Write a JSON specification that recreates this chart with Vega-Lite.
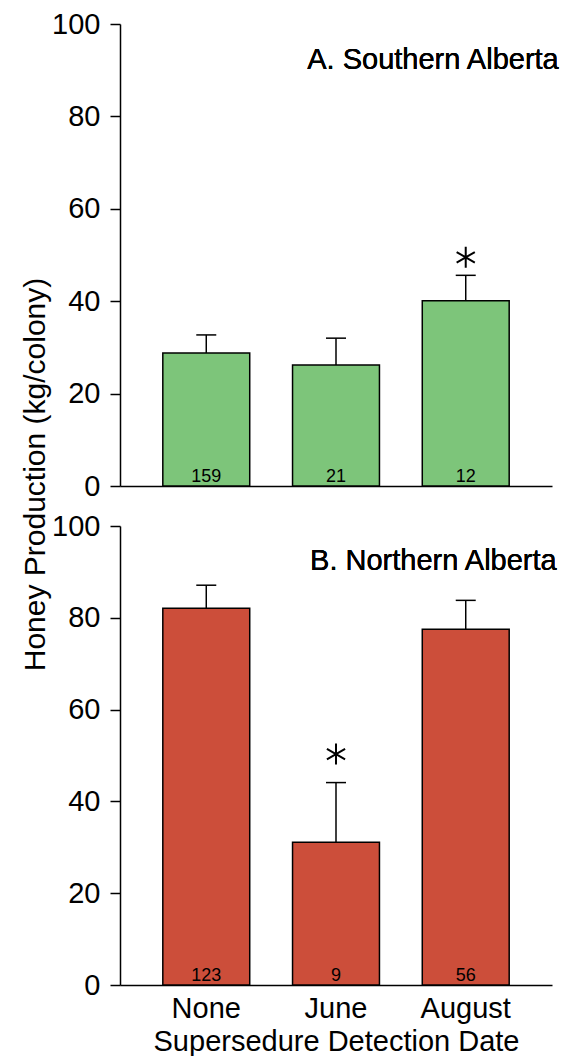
{
  "$schema": "https://vega.github.io/schema/vega-lite/v6.json",
  "padding": {"left": 20, "top": 10, "right": 5, "bottom": 0},
  "background": "white",
  "config": {
    "font": "Liberation Sans",
    "view": {"stroke": null},
    "axis": {"grid": false, "domainColor": "black", "tickColor": "black", "labelColor": "black", "titleColor": "black", "domainWidth": 1.5, "tickWidth": 1.5, "labelFont": "Liberation Sans", "titleFont": "Liberation Sans", "titleFontWeight": "normal"}
  },
  "spacing": 40,
  "bounds": "flush",
  "vconcat": [
    {
      "width": 432,
      "height": 462,
      "data": {"values": [
        {"date": "None", "mean": 28.8, "upper": 32.7, "n": 159},
        {"date": "June", "mean": 26.2, "upper": 32.0, "n": 21},
        {"date": "August", "mean": 40.1, "upper": 45.6, "n": 12, "star": 49.5}
      ]},
      "encoding": {
        "x": {"field": "date", "type": "nominal", "sort": ["None", "June", "August"], "scale": {"paddingInner": 0.33, "paddingOuter": 0.33}, "axis": {"title": null, "labels": false, "ticks": false}}
      },
      "layer": [
        {"mark": {"type": "bar", "fill": "#7DC57A", "stroke": "black", "strokeWidth": 1.5},
         "encoding": {"y": {"field": "mean", "type": "quantitative", "scale": {"domain": [0, 100]},
           "axis": {"title": "Honey Production (kg/colony)", "titleX": -85, "titleY": 450, "titleAngle": -90, "titleBaseline": "middle", "titleAlign": "center", "titleFontSize": 30, "values": [0, 20, 40, 60, 80, 100], "tickSize": 10, "labelFontSize": 29, "labelPadding": 10, "labelFlush": false}}}},
        {"mark": {"type": "rule", "color": "black", "strokeWidth": 1.5},
         "encoding": {"y": {"field": "mean", "type": "quantitative"}, "y2": {"field": "upper"}}},
        {"mark": {"type": "tick", "color": "black", "thickness": 1.5, "size": 20, "opacity": 1},
         "encoding": {"y": {"field": "upper", "type": "quantitative"}}},
        {"mark": {"type": "text", "baseline": "alphabetic", "dy": -4, "fontSize": 18, "color": "black"},
         "encoding": {"y": {"datum": 0}, "text": {"field": "n", "type": "nominal"}}},
        {"mark": {"type": "point", "shape": "M0,-1L0,1M-0.866,-0.5L0.866,0.5M-0.866,0.5L0.866,-0.5", "filled": false, "stroke": "black", "strokeWidth": 2, "size": 441, "opacity": 1},
         "encoding": {"y": {"field": "star", "type": "quantitative"}}},
        {"mark": {"type": "text", "text": "A. Southern Alberta", "align": "right", "baseline": "alphabetic", "dx": 93, "fontSize": 29, "color": "black"},
         "encoding": {"x": {"datum": "August"}, "y": {"datum": 90.3}}}
      ]
    },
    {
      "width": 432,
      "height": 459,
      "data": {"values": [
        {"date": "None", "mean": 82.1, "upper": 87.1, "n": 123},
        {"date": "June", "mean": 31.1, "upper": 44.1, "n": 9, "star": 50.3},
        {"date": "August", "mean": 77.5, "upper": 83.8, "n": 56}
      ]},
      "encoding": {
        "x": {"field": "date", "type": "nominal", "sort": ["None", "June", "August"], "scale": {"paddingInner": 0.33, "paddingOuter": 0.33},
          "axis": {"title": "Supersedure Detection Date", "titleFontSize": 29, "labelFontSize": 29, "ticks": false, "labelPadding": 9, "labelAngle": 0, "titlePadding": 4}}
      },
      "layer": [
        {"mark": {"type": "bar", "fill": "#CC4E3A", "stroke": "black", "strokeWidth": 1.5},
         "encoding": {"y": {"field": "mean", "type": "quantitative", "scale": {"domain": [0, 100]},
           "axis": {"title": null, "values": [0, 20, 40, 60, 80, 100], "tickSize": 10, "labelFontSize": 29, "labelPadding": 10, "labelFlush": false}}}},
        {"mark": {"type": "rule", "color": "black", "strokeWidth": 1.5},
         "encoding": {"y": {"field": "mean", "type": "quantitative"}, "y2": {"field": "upper"}}},
        {"mark": {"type": "tick", "color": "black", "thickness": 1.5, "size": 20, "opacity": 1},
         "encoding": {"y": {"field": "upper", "type": "quantitative"}}},
        {"mark": {"type": "text", "baseline": "alphabetic", "dy": -4, "fontSize": 18, "color": "black"},
         "encoding": {"y": {"datum": 0}, "text": {"field": "n", "type": "nominal"}}},
        {"mark": {"type": "point", "shape": "M0,-1L0,1M-0.866,-0.5L0.866,0.5M-0.866,0.5L0.866,-0.5", "filled": false, "stroke": "black", "strokeWidth": 2, "size": 441, "opacity": 1},
         "encoding": {"y": {"field": "star", "type": "quantitative"}}},
        {"mark": {"type": "text", "text": "B. Northern Alberta", "align": "right", "baseline": "alphabetic", "dx": 91, "fontSize": 29, "color": "black"},
         "encoding": {"x": {"datum": "August"}, "y": {"datum": 90.4}}}
      ]
    }
  ]
}
